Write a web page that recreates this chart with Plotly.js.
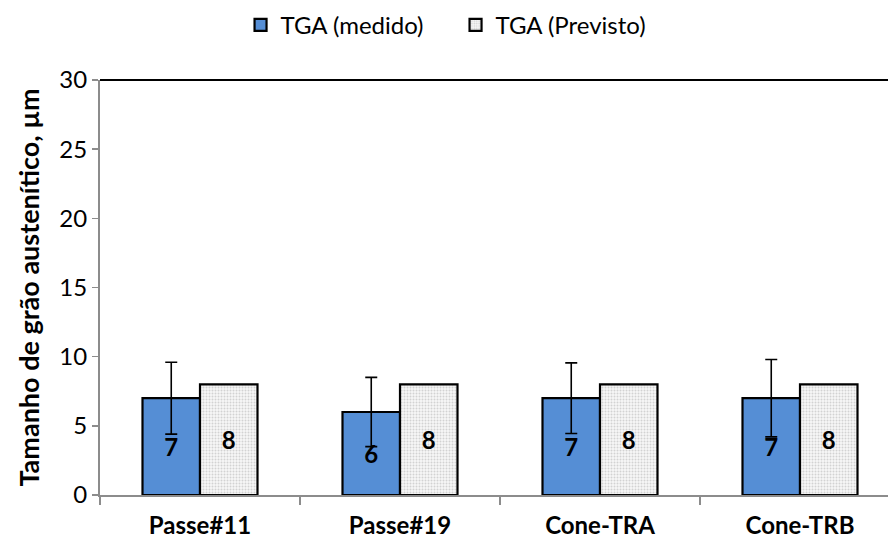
<!DOCTYPE html>
<html>
<head>
<meta charset="utf-8">
<script src="https://cdn.plot.ly/plotly-3.0.1.min.js"></script>
<style>
  html, body { margin: 0; padding: 0; background: #fff; }
  #chart { width: 888px; height: 540px; }
</style>
</head>
<body>
<div id="chart"></div>
<script>
// Austenite grain size: measured vs predicted, per sample
const categories = ['Passe#11', 'Passe#19', 'Cone-TRA', 'Cone-TRB'];
const measured = [7, 6, 7, 7];
const measuredErr = [2.6, 2.5, 2.55, 2.8];
const predicted = [8, 8, 8, 8];
const seriesNames = ['TGA (medido)', 'TGA (Previsto)'];
const yTicks = [0, 5, 10, 15, 20, 25, 30];

const FONT = 'Lato, "Open Sans", sans-serif';

const traces = [
  {
    type: 'bar',
    name: seriesNames[0],
    x: categories,
    y: measured,
    text: measured.map(String),
    textposition: 'inside',
    insidetextanchor: 'middle',
    textangle: 0,
    textfont: { family: FONT, size: 24, color: '#000', weight: 'bold' },
    marker: { color: '#558ed5', line: { color: '#000', width: 2.2 } },
    error_y: {
      type: 'data', array: measuredErr, visible: true,
      color: '#000', thickness: 1.6, width: 6
    },
    cliponaxis: false
  },
  {
    type: 'bar',
    name: seriesNames[1],
    x: categories,
    y: predicted,
    text: predicted.map(String),
    textposition: 'inside',
    insidetextanchor: 'middle',
    textangle: 0,
    textfont: { family: FONT, size: 24, color: '#000', weight: 'bold' },
    marker: {
      color: '#f2f2f2',
      line: { color: '#000', width: 2.2 },
      pattern: { shape: '.', bgcolor: '#f7f7f7', fgcolor: '#d2d2d2', size: 3, solidity: 0.35 }
    }
  }
];

const layout = {
  width: 888,
  height: 540,
  margin: { l: 100, r: 0, t: 80, b: 45 },
  paper_bgcolor: '#fff',
  plot_bgcolor: '#fff',
  font: { family: FONT, size: 24, color: '#000' },
  barmode: 'group',
  bargap: 0.425,
  bargroupgap: 0,
  showlegend: true,
  legend: {
    orientation: 'h',
    x: 0.513, xref: 'container', xanchor: 'center',
    y: 0.995, yref: 'container', yanchor: 'top',
    font: { family: FONT, size: 24, color: '#000' },
    itemwidth: 30,
    entrywidth: 170,
    tracegroupgap: 0
  },
  xaxis: {
    type: 'category',
    range: [-0.5, 3.44],
    showline: true, linecolor: '#8c8c8c', linewidth: 2,
    ticks: 'outside', tickson: 'boundaries', ticklen: 8, tickcolor: '#8c8c8c', tickwidth: 1.5,
    ticklabelstandoff: 8,
    tickfont: { family: FONT, size: 24, color: '#000', weight: 'bold' },
    showgrid: false, zeroline: false,
    fixedrange: true
  },
  yaxis: {
    range: [0, 30],
    tickvals: yTicks,
    ticktext: yTicks.map(String),
    showline: true, linecolor: '#8c8c8c', linewidth: 2,
    ticks: 'outside', ticklen: 6, tickcolor: '#8c8c8c', tickwidth: 1.5,
    tickfont: { family: FONT, size: 24, color: '#000' },
    showgrid: false, zeroline: false,
    title: {
      text: 'Tamanho de grão austenítico, µm',
      font: { family: FONT, size: 27, color: '#000', weight: 'bold' },
      standoff: 12
    }
  },
  shapes: [
    {
      type: 'line', xref: 'paper', yref: 'paper',
      x0: 0, x1: 1, y0: 1, y1: 1,
      line: { color: '#000', width: 2 }
    }
  ]
};

Plotly.newPlot('chart', traces, layout, { displayModeBar: false, staticPlot: true });
</script>
</body>
</html>
